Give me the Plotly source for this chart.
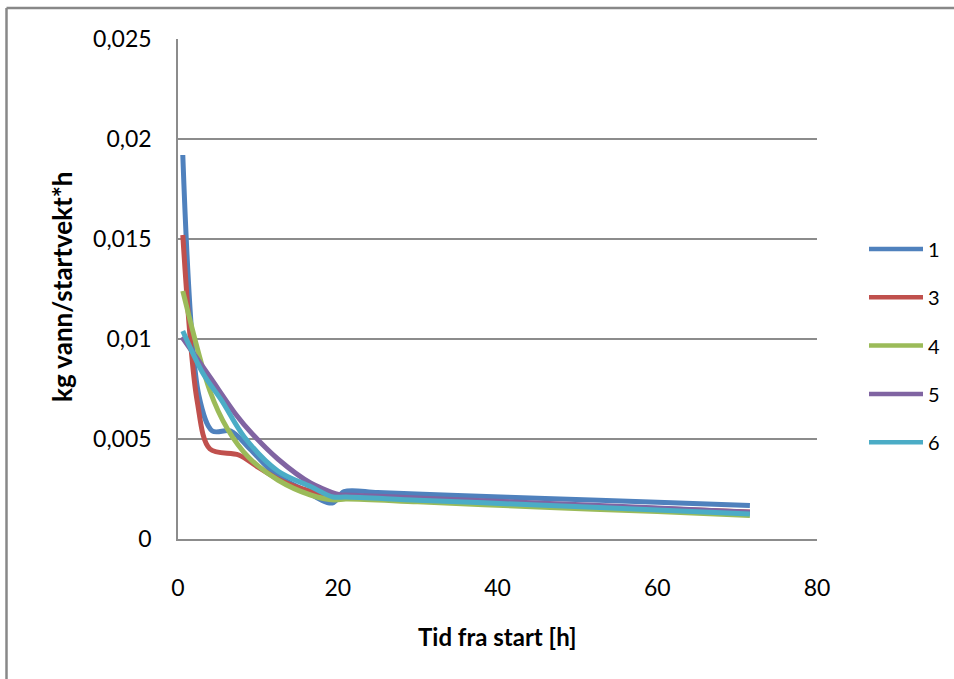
import plotly.graph_objects as go

# Measured drying rate per sample (hours since start, kg water per start weight per hour)
series_names = ["1", "3", "4", "5", "6"]

t1 = [0.6, 2.6, 4.3, 6.6, 9.0, 12.0, 15.5, 19.3, 20.8, 25.0, 35.0, 45.0, 60.0, 71.6]
s1 = [0.0192, 0.0072, 0.0054, 0.0054, 0.0045, 0.0033, 0.0025, 0.0018, 0.00237, 0.00232, 0.00218, 0.00204, 0.00184, 0.00168]

t3 = [0.6, 2.4, 4.0, 7.6, 10.0, 13.0, 16.5, 20.0, 21.0, 30.0, 45.0, 60.0, 71.6]
s3 = [0.0152, 0.0069, 0.0045, 0.0042, 0.0036, 0.0029, 0.0024, 0.0021, 0.0021, 0.00196, 0.00174, 0.00152, 0.00135]

t4 = [0.6, 4.0, 6.2, 8.8, 12.5, 16.6, 19.6, 21.0, 30.0, 45.0, 60.0, 71.6]
s4 = [0.0124, 0.0074, 0.0055, 0.0041, 0.00295, 0.0022, 0.00195, 0.0020, 0.00186, 0.0016, 0.00137, 0.00117]

t5 = [0.5, 4.0, 7.3, 9.2, 12.5, 16.6, 20.4, 21.0, 30.0, 45.0, 60.0, 71.6]
s5 = [0.0101, 0.0081, 0.0062, 0.0053, 0.0040, 0.0028, 0.0022, 0.0022, 0.00205, 0.0018, 0.00155, 0.00134]

t6 = [0.6, 3.1, 5.5, 8.3, 12.5, 16.6, 19.4, 21.0, 30.0, 45.0, 60.0, 71.6]
s6 = [0.0104, 0.0083, 0.0069, 0.0051, 0.0034, 0.00262, 0.0021, 0.0021, 0.00194, 0.0017, 0.00145, 0.00125]

y_tickvals = [0, 0.005, 0.01, 0.015, 0.02, 0.025]
y_ticktext = ["0", "0,005", "0,01", "0,015", "0,02", "0,025"]
x_tickvals = [0, 20, 40, 60, 80]
x_ticktext = ["0", "20", "40", "60", "80"]

colors = ["#4F81BD", "#C0504D", "#9BBB59", "#8064A2", "#4BACC6"]
times = [t1, t3, t4, t5, t6]
values = [s1, s3, s4, s5, s6]

W, H = 954, 679
L, R, T, B = 178, 137, 39, 140
pw, ph = W - L - R, H - T - B

def px_x(p):
    return (p - L) / pw

def px_y(p):
    return 1 - (p - T) / ph

fig = go.Figure()
for name, t, v, c in zip(series_names, times, values, colors):
    fig.add_trace(go.Scatter(
        x=t, y=v, name=name, mode="lines",
        line=dict(color=c, width=5, shape="spline", smoothing=0.9),
        showlegend=False,
    ))

grid = "#8C8C8C"
font_family = "Lato, 'Open Sans', sans-serif"

shapes = []
annotations = []
# legend drawn as short line samples with labels
for i, (name, c) in enumerate(zip(series_names, colors)):
    yy = 249 + i * 48.3
    shapes.append(dict(type="line", xref="paper", yref="paper",
                       x0=px_x(869), x1=px_x(923), y0=px_y(yy), y1=px_y(yy),
                       line=dict(color=c, width=4.5)))
    annotations.append(dict(xref="paper", yref="paper", x=px_x(926), y=px_y(yy),
                            text=name, showarrow=False, xanchor="left", yanchor="middle",
                            font=dict(family=font_family, size=20, color="#000000")))

# chart-area frame (top and left edges)
shapes.append(dict(type="line", xref="paper", yref="paper",
                   x0=px_x(6.5), x1=px_x(960), y0=px_y(8), y1=px_y(8),
                   line=dict(color="#888888", width=2.5)))
shapes.append(dict(type="line", xref="paper", yref="paper",
                   x0=px_x(6.5), x1=px_x(6.5), y0=px_y(8), y1=px_y(690),
                   line=dict(color="#888888", width=2.5)))

# axis titles
annotations.append(dict(xref="paper", yref="paper", x=px_x(497), y=px_y(636),
                        text="<b>Tid fra start [h]</b>", showarrow=False,
                        xanchor="center", yanchor="middle",
                        font=dict(family=font_family, size=24, color="#000000")))
annotations.append(dict(xref="paper", yref="paper", x=px_x(62), y=px_y(287),
                        text="<b>kg vann/startvekt*h</b>", showarrow=False, textangle=-90,
                        xanchor="center", yanchor="middle",
                        font=dict(family=font_family, size=26, color="#000000")))

fig.update_layout(
    width=W, height=H,
    margin=dict(l=L, r=R, t=T, b=B),
    paper_bgcolor="white", plot_bgcolor="white",
    font=dict(family=font_family, size=23, color="#000000"),
    shapes=shapes, annotations=annotations,
    xaxis=dict(range=[0, 80], tickvals=x_tickvals, ticktext=x_ticktext,
               showgrid=False, zeroline=False, showline=True, linecolor=grid, linewidth=1.5,
               ticks="", ticklabelstandoff=28),
    yaxis=dict(range=[0, 0.025], tickvals=y_tickvals, ticktext=y_ticktext,
               showgrid=True, gridcolor=grid, gridwidth=1.5,
               zeroline=False, showline=True, linecolor=grid, linewidth=1.5,
               ticks="", ticklabelstandoff=20),
)
fig.write_html("out.html")
